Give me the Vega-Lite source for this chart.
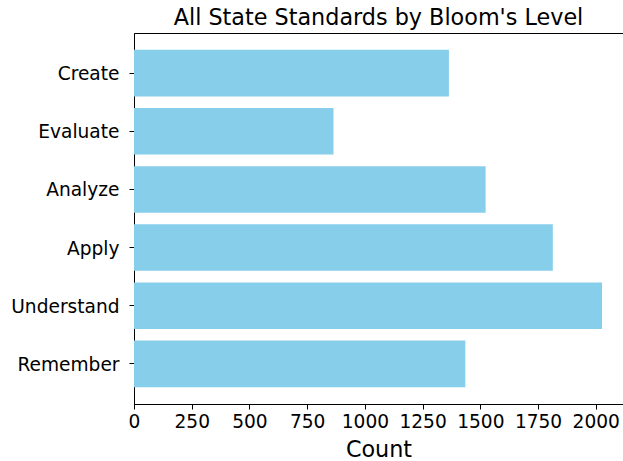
{
  "$schema": "https://vega.github.io/schema/vega-lite/v6.json",
  "autosize": {"type": "none"},
  "padding": {"left": 134, "top": 33, "right": 0, "bottom": 57},
  "width": 489,
  "height": 371,
  "background": "white",
  "title": {"text": "All State Standards by Bloom's Level", "font": "DejaVu Sans", "fontSize": 22.3, "fontWeight": "normal", "color": "black", "offset": 4},
  "data": {"values": [
    {"level": "Create", "count": 1364},
    {"level": "Evaluate", "count": 864},
    {"level": "Analyze", "count": 1523},
    {"level": "Apply", "count": 1814},
    {"level": "Understand", "count": 2027},
    {"level": "Remember", "count": 1435}
  ]},
  "mark": {"type": "bar", "color": "#87CEEB"},
  "encoding": {
    "y": {"field": "level", "type": "nominal", "sort": null,
      "scale": {"paddingInner": 0.2, "paddingOuter": 0.29},
      "axis": {"title": null, "labelFont": "DejaVu Sans", "labelFontSize": 18.6, "labelColor": "black", "tickColor": "black", "domainColor": "black", "tickSize": 5, "labelPadding": 10, "labelOffset": 1, "grid": false}},
    "x": {"field": "count", "type": "quantitative",
      "scale": {"domain": [0, 2118], "nice": false, "zero": true},
      "axis": {"title": "Count", "format": "d", "values": [0, 250, 500, 750, 1000, 1250, 1500, 1750, 2000], "titleFont": "DejaVu Sans", "titleFontSize": 22.3, "titleFontWeight": "normal", "titleColor": "black", "titlePadding": 8, "labelFont": "DejaVu Sans", "labelFontSize": 18.6, "labelColor": "black", "tickColor": "black", "domainColor": "black", "tickSize": 5, "labelPadding": 3, "grid": false, "labelFlush": false, "labelOverlap": false}}
  },
  "config": {"view": {"stroke": "black", "strokeWidth": 1}, "axis": {"domainWidth": 1, "tickWidth": 1}}
}
